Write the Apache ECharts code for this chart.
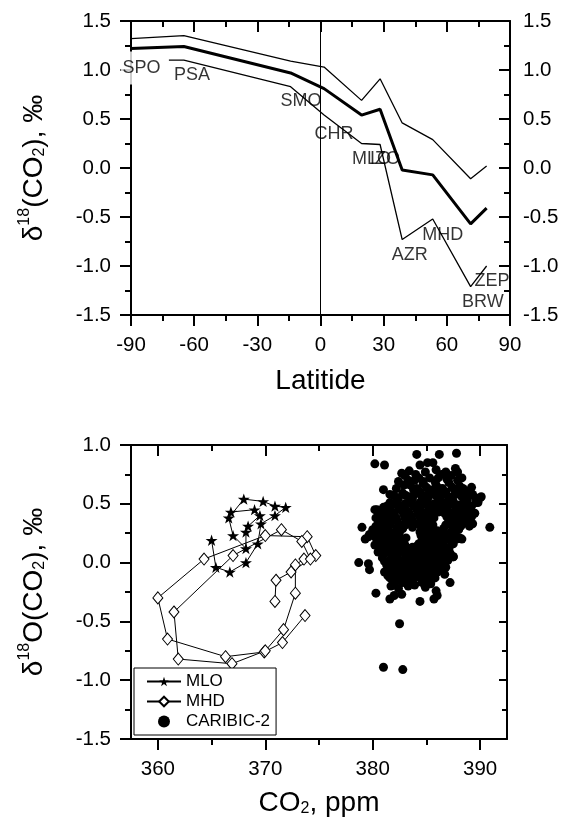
<!DOCTYPE html>
<html><head><meta charset="utf-8">
<script src="https://cdn.jsdelivr.net/npm/echarts@6/dist/echarts.min.js"></script>
<style>html,body{margin:0;padding:0;background:#fff}#c{width:562px;height:824px}</style>
</head><body><div id="c"></div>
<script>
const FONT = '"Liberation Sans", Arial, Helvetica, sans-serif';

// ---------- Top panel: latitude profile ----------
const latTicks = [-90, -60, -30, 0, 30, 60, 90];
const d18Ticks = [-1.5, -1.0, -0.5, 0.0, 0.5, 1.0, 1.5];
const upperLat = [-90, -64.9, -14.2, 1.7, 19.5, 28.3, 38.8, 53.3, 71.3, 78.9];
const upperVal = [1.32, 1.35, 1.09, 1.03, 0.69, 0.91, 0.46, 0.29, -0.11, 0.02];
const meanLat  = [-90, -64.9, -14.2, 1.7, 19.5, 28.3, 38.8, 53.3, 71.3, 78.9];
const meanVal  = [1.22, 1.24, 0.97, 0.81, 0.54, 0.60, -0.02, -0.07, -0.57, -0.41];
const lowerLat = [-72, -64.9, -14.2, 1.7, 19.5, 28.3, 38.8, 53.3, 71.3, 78.9];
const lowerVal = [1.10, 1.10, 0.83, 0.54, 0.25, 0.24, -0.73, -0.52, -1.21, -1.00];
const stationNames = ['SPO', 'PSA', 'SMO', 'CHR', 'MLO', 'IZO', 'AZR', 'MHD', 'ZEP', 'BRW'];
const stationLabelLat = [-85, -61, -9.3, 6.4, 24.2, 30.6, 42.4, 58.1, 81.4, 77.1];
const stationLabelVal = [1.02, 0.95, 0.68, 0.35, 0.087, 0.087, -0.89, -0.68, -1.15, -1.37];

// ---------- Bottom panel: d18O vs CO2 ----------
const co2Ticks = [360, 370, 380, 390];
const co2MinorTicks = [365, 375, 385];
const d18Ticks2 = [-1.5, -1.0, -0.5, 0.0, 0.5, 1.0];
const mloCO2  = [365.0, 365.4, 366.7, 368.2, 369.3, 369.6, 370.9, 371.9, 370.9, 369.8, 368.0, 366.6, 367.0, 368.2, 368.2, 368.4, 369.5, 369.0, 366.8];
const mloD18O = [0.19, -0.04, -0.08, 0.00, 0.16, 0.33, 0.40, 0.47, 0.48, 0.52, 0.54, 0.38, 0.23, 0.12, 0.26, 0.31, 0.40, 0.45, 0.43];
const mhdCO2  = [373.7, 371.6, 369.9, 366.3, 360.9, 360.0, 364.3, 370.0, 373.9, 374.7, 373.6, 372.8, 372.8, 371.7, 370.0, 366.9, 361.9, 361.5, 367.0, 371.5, 373.4, 374.2, 372.4, 371.0, 370.9];
const mhdD18O = [-0.45, -0.68, -0.76, -0.80, -0.65, -0.30, 0.03, 0.23, 0.22, 0.06, 0.03, -0.02, -0.26, -0.57, -0.75, -0.86, -0.82, -0.42, 0.06, 0.28, 0.18, 0.03, -0.08, -0.15, -0.33];
const caribic = [
 [383.5,0.66],[384.1,0.63],[384.7,0.67],[385.3,0.62],[385.9,0.66],[386.5,0.63],[387.1,0.68],[387.6,0.62],[388.1,0.65],[388.6,0.61],[389.2,0.64],
 [382.0,0.57],[382.8,0.59],[383.5,0.56],[384.2,0.60],[384.9,0.57],[385.5,0.59],[386.1,0.55],[386.8,0.58],[387.4,0.56],[388.0,0.59],[388.6,0.55],[389.3,0.58],[390.0,0.55],
 [381.6,0.51],[382.3,0.53],[383.0,0.50],[383.7,0.54],[384.4,0.51],[385.0,0.53],[385.7,0.50],[386.3,0.54],[386.9,0.51],[387.5,0.52],[388.1,0.49],[388.8,0.53],[389.6,0.51],
 [380.4,0.45],[381.0,0.47],[381.7,0.44],[382.4,0.47],[383.1,0.45],[383.8,0.48],[384.5,0.44],[385.2,0.47],[385.8,0.45],[386.4,0.48],[387.0,0.44],[387.7,0.47],[388.3,0.45],[389.0,0.44],[389.5,0.42],
 [380.9,0.39],[381.5,0.41],[382.2,0.38],[382.9,0.41],[383.6,0.39],[384.2,0.42],[384.9,0.38],[385.5,0.41],[386.7,0.42],[387.4,0.38],[388.0,0.40],[388.6,0.38],[389.2,0.39],
 [380.6,0.35],[381.2,0.33],[381.9,0.36],[382.6,0.32],[383.3,0.35],[384.0,0.33],[384.7,0.36],[385.3,0.32],[387.1,0.36],[387.8,0.32],[388.4,0.34],[389.0,0.31],
 [380.0,0.28],[380.7,0.27],[381.4,0.29],[382.1,0.26],[382.8,0.29],[384.8,0.26],[385.4,0.29],[386.0,0.27],[386.6,0.29],[387.3,0.26],[388.0,0.28],
 [379.6,0.22],[380.3,0.21],[381.0,0.23],[381.7,0.20],[382.4,0.23],[383.1,0.21],[384.5,0.23],[385.1,0.20],[385.8,0.22],[386.4,0.19],[387.1,0.22],[387.8,0.20],
 [380.2,0.15],[380.9,0.17],[381.6,0.14],[382.3,0.17],[383.0,0.15],[383.7,0.13],[384.3,0.16],[384.9,0.14],[385.5,0.17],[386.1,0.15],[386.8,0.13],[387.5,0.16],
 [380.5,0.09],[381.2,0.11],[381.9,0.08],[382.6,0.11],[383.3,0.09],[384.0,0.10],[384.6,0.08],[385.2,0.11],[385.8,0.09],[386.5,0.10],[387.2,0.08],
 [380.9,0.04],[381.6,0.02],[382.3,0.05],[383.0,0.03],[383.7,0.05],[384.4,0.02],[385.0,0.05],[385.6,0.03],[386.3,0.05],[387.0,0.02],[387.5,0.05],
 [381.3,-0.02],[382.0,-0.01],[382.7,-0.03],[383.4,-0.01],[384.1,-0.03],[384.8,-0.01],[385.4,-0.03],[386.1,-0.02],[386.8,-0.04],
 [381.1,-0.08],[381.8,-0.07],[382.5,-0.09],[383.2,-0.07],[383.9,-0.09],[384.6,-0.07],[385.3,-0.09],[386.0,-0.08],[386.7,-0.10],
 [381.6,-0.13],[382.3,-0.15],[383.0,-0.13],[383.7,-0.15],[384.4,-0.13],[385.1,-0.15],[385.8,-0.13],
 [381.7,-0.20],[382.4,-0.22],[383.3,-0.20],[383.9,-0.19],[384.9,-0.21],[385.9,-0.24],[387.2,-0.17],
 [380.3,-0.26],[381.6,-0.31],[382.0,-0.28],[382.7,-0.27],[384.4,-0.33],[385.7,-0.31],[386.0,-0.28],
 [384.1,0.92],[386.2,0.92],[387.8,0.93],[380.2,0.84],[381.1,0.83],[384.4,0.83],[385.1,0.85],[385.6,0.85],[387.7,0.80],[387.9,0.77],
 [382.7,0.76],[383.0,0.74],[384.0,0.75],[386.4,0.75],[385.3,0.72],[382.4,0.69],[383.9,0.70],[384.7,0.69],[386.9,0.71],[387.9,0.70],[385.8,0.69],
 [381.0,0.62],[381.6,0.58],[390.1,0.56],[389.8,0.51],[380.2,0.45],[379.0,0.30],[390.9,0.30],[379.3,0.20],[379.7,0.24],[378.7,0.00],[379.6,-0.01],[379.7,-0.06],
 [382.5,-0.52],[381.0,-0.89],[382.8,-0.91],[388.3,0.20],[389.3,0.33],[388.9,0.45],[387.5,0.05],[388.1,0.21],
 [383.8,0.62],[384.4,0.60],[385.0,0.64],[385.6,0.61],[386.2,0.63],[386.8,0.60],[387.4,0.64],[387.9,0.61],[388.4,0.63],[389.0,0.60],
 [383.4,0.78],[384.9,0.77],[385.9,0.79],[386.8,0.77],[387.3,0.74],[384.3,0.72],[383.3,0.70],[386.1,0.72],[388.3,0.72],[382.9,0.66],[382.2,0.63],
 [382.4,0.55],[383.1,0.57],[383.9,0.58],[384.6,0.55],[385.2,0.56],[385.9,0.57],[386.5,0.59],[387.1,0.54],[387.7,0.58],[388.3,0.56],[389.0,0.57],[389.6,0.55],
 [381.3,0.48],[382.0,0.50],[382.7,0.48],[383.4,0.51],[384.1,0.48],[384.7,0.50],[385.4,0.49],[386.0,0.50],[386.6,0.48],[387.2,0.50],[387.8,0.49],[388.5,0.50],[389.2,0.48],
 [380.7,0.42],[381.3,0.44],[382.0,0.42],[382.7,0.44],[383.4,0.42],[384.1,0.45],[384.8,0.42],[385.5,0.44],[386.1,0.43],[386.7,0.45],[387.3,0.42],[388.0,0.44],[388.7,0.42],
 [380.3,0.38],[381.0,0.36],[381.6,0.38],[382.3,0.35],[383.0,0.38],[383.7,0.36],[384.4,0.39],[385.1,0.35],[385.7,0.38],[386.9,0.39],[387.5,0.35],[388.1,0.37],[388.8,0.35],
 [380.3,0.31],[380.9,0.30],[381.6,0.32],[382.3,0.30],[383.0,0.32],[383.7,0.30],[384.4,0.32],[385.0,0.30],[385.6,0.32],[386.8,0.32],[387.5,0.30],[388.2,0.31],
 [380.4,0.25],[381.1,0.26],[381.8,0.24],[382.5,0.26],[384.4,0.26],[385.1,0.24],[385.7,0.26],[386.3,0.25],[386.9,0.23],[387.6,0.25],
 [380.6,0.19],[381.3,0.20],[382.0,0.18],[382.7,0.20],[384.6,0.19],[385.4,0.21],[386.0,0.19],[386.7,0.20],[387.3,0.18],
 [380.6,0.12],[381.3,0.14],[382.0,0.12],[382.7,0.14],[383.4,0.12],[384.1,0.14],[384.7,0.12],[385.3,0.14],[385.9,0.12],[386.5,0.14],[387.1,0.12],
 [381.0,0.07],[381.6,0.08],[382.3,0.06],[383.0,0.08],[383.6,0.06],[384.3,0.07],[385.0,0.08],[385.6,0.06],[386.2,0.07],[386.9,0.06],
 [381.1,0.01],[381.9,0.02],[382.6,0.00],[383.3,0.02],[384.0,0.00],[384.7,0.02],[385.3,0.00],[386.0,0.01],[386.6,0.00],
 [381.5,-0.05],[382.2,-0.04],[382.9,-0.06],[383.6,-0.04],[384.3,-0.06],[385.0,-0.04],[385.7,-0.05],[386.4,-0.06],
 [381.4,-0.11],[382.0,-0.10],[382.8,-0.11],[383.5,-0.10],[384.2,-0.11],[384.9,-0.10],[385.6,-0.11],
 [382.0,-0.17],[382.8,-0.17],[383.6,-0.16],[384.6,-0.17],[385.4,-0.18]
];

const zip = (a, b) => a.map((v, i) => [v, b[i]]);
const AX = { color: '#000', width: 2 };
const AXL = { onZero: false, lineStyle: AX };
const lbl = (extra) => Object.assign({ color: '#000', fontSize: 20.5, fontFamily: FONT }, extra);
const rich = {
  sup: { fontSize: 16, fontFamily: FONT, color: '#000', padding: [0, 0, 18, 0] },
  sub: { fontSize: 16, fontFamily: FONT, color: '#000', padding: [12, 0, 0, 0] }
};
const nameStyle = { fontSize: 28, fontFamily: FONT, color: '#000', rich: rich };
const fmt1 = v => v.toFixed(1);

const chart = echarts.init(document.getElementById('c'), null, { renderer: 'canvas' });
chart.setOption({
  animation: false,
  backgroundColor: '#fff',
  textStyle: { fontFamily: FONT },
  grid: [
    { left: 131, top: 21, width: 379, height: 294 },
    { left: 131, top: 445, width: 376, height: 294 }
  ],
  legend: {
    data: ['MLO', 'MHD', 'CARIBIC-2'],
    orient: 'vertical', left: 134, top: 668,
    itemWidth: 34, itemHeight: 12, itemGap: 3,
    padding: [5, 6, 5, 12],
    borderColor: '#000', borderWidth: 1, borderRadius: 0,
    backgroundColor: '#fff',
    textStyle: { fontSize: 17, color: '#000', fontFamily: FONT }
  },
  xAxis: [
    { gridIndex: 0, type: 'value', position: 'bottom', min: latTicks[0], max: latTicks[latTicks.length - 1], interval: latTicks[1] - latTicks[0],
      axisLine: AXL, axisTick: { length: 11, lineStyle: AX },
      minorTick: { show: true, splitNumber: 2, length: 6, lineStyle: AX },
      splitLine: { show: false }, minorSplitLine: { show: false },
      axisLabel: lbl({ margin: 20 }),
      name: 'Latitide', nameLocation: 'middle', nameGap: 52, nameTextStyle: nameStyle },
    { gridIndex: 0, type: 'value', position: 'top', min: latTicks[0], max: latTicks[latTicks.length - 1], interval: latTicks[1] - latTicks[0],
      axisLine: AXL, axisTick: { inside: true, length: 11, lineStyle: AX },
      minorTick: { show: true, splitNumber: 2, length: 6, lineStyle: AX },
      splitLine: { show: false }, axisLabel: { show: false } },
    { gridIndex: 1, type: 'value', position: 'bottom', min: 357.5, max: 392.5,
      axisLine: AXL, axisTick: { length: 11, lineStyle: AX, customValues: co2Ticks },
      splitLine: { show: false },
      axisLabel: lbl({ margin: 20, customValues: co2Ticks }),
      name: 'CO{sub|2}, ppm', nameLocation: 'middle', nameGap: 50, nameTextStyle: nameStyle },
    { gridIndex: 1, type: 'value', position: 'bottom', min: 357.5, max: 392.5,
      axisLine: { show: false, onZero: false }, axisTick: { length: 6, lineStyle: AX, customValues: co2MinorTicks },
      splitLine: { show: false }, axisLabel: { show: false } },
    { gridIndex: 1, type: 'value', position: 'top', min: 357.5, max: 392.5,
      axisLine: AXL, axisTick: { inside: true, length: 11, lineStyle: AX, customValues: co2Ticks },
      splitLine: { show: false }, axisLabel: { show: false } },
    { gridIndex: 1, type: 'value', position: 'top', min: 357.5, max: 392.5,
      axisLine: { show: false, onZero: false }, axisTick: { inside: true, length: 6, lineStyle: AX, customValues: co2MinorTicks },
      splitLine: { show: false }, axisLabel: { show: false } }
  ],
  yAxis: [
    { gridIndex: 0, type: 'value', position: 'left', min: d18Ticks[0], max: d18Ticks[d18Ticks.length - 1], interval: 0.5,
      axisLine: AXL, axisTick: { length: 11, lineStyle: AX },
      minorTick: { show: true, splitNumber: 2, length: 6, lineStyle: AX },
      splitLine: { show: false }, minorSplitLine: { show: false },
      axisLabel: lbl({ margin: 20, formatter: fmt1 }),
      name: 'δ{sup|18}(CO{sub|2}), ‰', nameLocation: 'middle', nameRotate: 90, nameGap: 80, nameTextStyle: nameStyle },
    { gridIndex: 0, type: 'value', position: 'right', min: d18Ticks[0], max: d18Ticks[d18Ticks.length - 1], interval: 0.5,
      axisLine: AXL, axisTick: { inside: true, length: 11, lineStyle: AX },
      minorTick: { show: true, splitNumber: 2, length: 6, lineStyle: AX },
      splitLine: { show: false }, axisLabel: lbl({ margin: 13, formatter: fmt1 }) },
    { gridIndex: 1, type: 'value', position: 'left', min: d18Ticks2[0], max: d18Ticks2[d18Ticks2.length - 1], interval: 0.5,
      axisLine: AXL, axisTick: { length: 11, lineStyle: AX },
      minorTick: { show: true, splitNumber: 2, length: 6, lineStyle: AX },
      splitLine: { show: false }, minorSplitLine: { show: false },
      axisLabel: lbl({ margin: 20, formatter: fmt1 }),
      name: 'δ{sup|18}O(CO{sub|2}), ‰', nameLocation: 'middle', nameRotate: 90, nameGap: 80, nameTextStyle: nameStyle },
    { gridIndex: 1, type: 'value', position: 'right', min: d18Ticks2[0], max: d18Ticks2[d18Ticks2.length - 1], interval: 0.5,
      axisLine: AXL, axisTick: { inside: true, length: 8, lineStyle: AX },
      minorTick: { show: true, splitNumber: 2, length: 5, lineStyle: AX },
      splitLine: { show: false }, axisLabel: { show: false } }
  ],
  series: [
    { name: 'labels', type: 'scatter', xAxisIndex: 0, yAxisIndex: 0, z: 1, symbolSize: 1,
      itemStyle: { color: 'rgba(0,0,0,0)' }, silent: true,
      data: stationNames.map((n, i) => ({ name: n, value: [stationLabelLat[i], stationLabelVal[i]],
        label: i === 0 ? { backgroundColor: '#fff', padding: [8, 2, 7, 2] } : {} })),
      label: { show: true, position: 'inside', formatter: p => p.name, color: '#000', fontSize: 18, fontFamily: FONT } },
    { name: 'upper', type: 'line', xAxisIndex: 0, yAxisIndex: 0, z: 3, symbol: 'none',
      lineStyle: { color: '#000', width: 1.3 }, data: zip(upperLat, upperVal),
      markLine: { silent: true, symbol: ['none', 'none'], label: { show: false },
        lineStyle: { color: '#000', width: 1, type: 'solid' }, data: [{ xAxis: 0 }] } },
    { name: 'mean', type: 'line', xAxisIndex: 0, yAxisIndex: 0, z: 3, symbol: 'none',
      lineStyle: { color: '#000', width: 3 }, data: zip(meanLat, meanVal) },
    { name: 'lower', type: 'line', xAxisIndex: 0, yAxisIndex: 0, z: 3, symbol: 'none',
      lineStyle: { color: '#000', width: 1.3 }, data: zip(lowerLat, lowerVal) },
    { name: 'CARIBIC-2', type: 'scatter', xAxisIndex: 2, yAxisIndex: 2, symbol: 'circle', symbolSize: 9,
      itemStyle: { color: '#000', opacity: 1 }, data: caribic },
    { name: 'MHD', type: 'line', xAxisIndex: 2, yAxisIndex: 2, symbol: 'diamond', symbolSize: [10, 12],
      showSymbol: true, itemStyle: { color: '#fff', borderColor: '#000', borderWidth: 1 },
      lineStyle: { color: '#000', width: 1 }, data: zip(mhdCO2, mhdD18O) },
    { name: 'MLO', type: 'line', xAxisIndex: 2, yAxisIndex: 2,
      symbol: 'path://M50,0 L61.8,35.1 L98.1,35.1 L68.8,56.7 L79.4,91 L50,70 L20.6,91 L31.2,56.7 L1.9,35.1 L38.2,35.1 Z',
      symbolKeepAspect: true, symbolSize: 12, showSymbol: true, itemStyle: { color: '#000' },
      lineStyle: { color: '#000', width: 1 }, data: zip(mloCO2, mloD18O) }
  ]
});
</script>
</body></html>
